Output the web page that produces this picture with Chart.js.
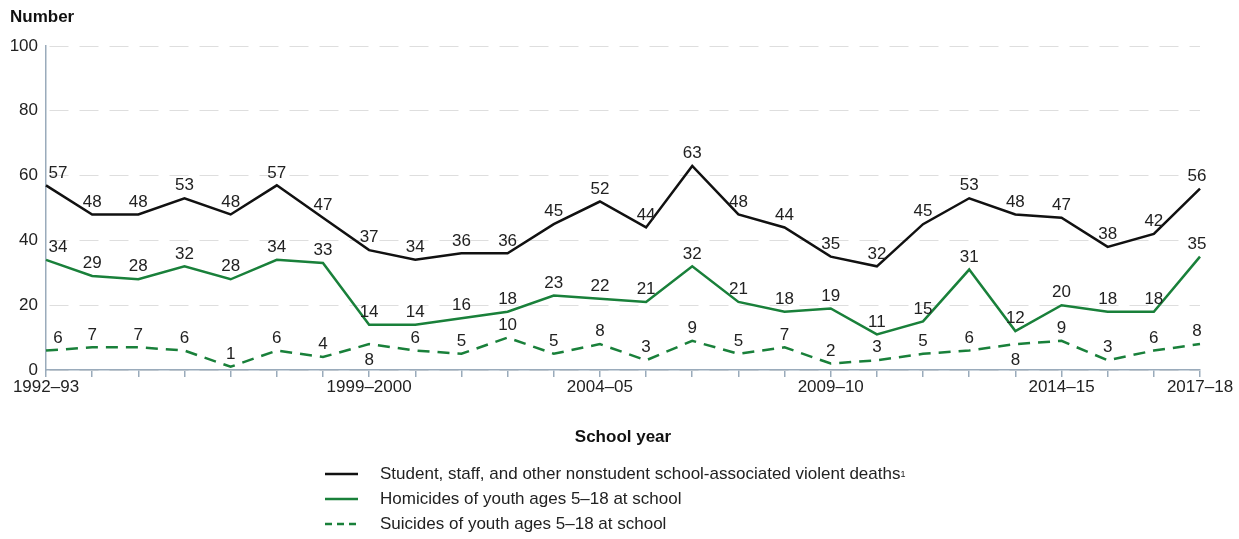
<!DOCTYPE html>
<html>
<head>
<meta charset="utf-8">
<script src="https://cdn.jsdelivr.net/npm/chart.js@4/dist/chart.umd.min.js"></script>
<style>
  html, body { margin: 0; padding: 0; background: #fff; }
  #wrap { position: relative; width: 1239px; height: 539px; }
  #legend { position: absolute; left: 325px; top: 461px; font-family: "Liberation Sans", Arial, sans-serif; font-size: 17px; color: #222; }
  #legend div { height: 25px; display: flex; align-items: center; }
  #legend svg { margin-right: 22px; }
  #legend sup { font-size: 9px; vertical-align: 7px; }
</style>
</head>
<body>
<div id="wrap">
  <canvas id="chart" width="1239" height="539"></canvas>
  <div id="legend">
    <div><svg width="33" height="4"><line x1="0" y1="2" x2="33" y2="2" stroke="#111" stroke-width="2.5"/></svg>Student, staff, and other nonstudent school-associated violent deaths<sup>1</sup></div>
    <div><svg width="33" height="4"><line x1="0" y1="2" x2="33" y2="2" stroke="#19803a" stroke-width="2.5"/></svg>Homicides of youth ages 5–18 at school</div>
    <div><svg width="33" height="4"><line x1="0" y1="2" x2="33" y2="2" stroke="#19803a" stroke-width="2.5" stroke-dasharray="7 5"/></svg>Suicides of youth ages 5–18 at school</div>
  </div>
</div>
<script>
const years = [
  "1992–93", "1993–94", "1994–95", "1995–96", "1996–97", "1997–98", "1998–99",
  "1999–2000", "2000–01", "2001–02", "2002–03", "2003–04", "2004–05", "2005–06",
  "2006–07", "2007–08", "2008–09", "2009–10", "2010–11", "2011–12", "2012–13",
  "2013–14", "2014–15", "2015–16", "2016–17", "2017–18"
];
const shownYears = ["1992–93", "1999–2000", "2004–05", "2009–10", "2014–15", "2017–18"];

const allDeaths = [57, 48, 48, 53, 48, 57, 47, 37, 34, 36, 36, 45, 52, 44, 63, 48, 44, 35, 32, 45, 53, 48, 47, 38, 42, 56];
const homicides = [34, 29, 28, 32, 28, 34, 33, 14, 14, 16, 18, 23, 22, 21, 32, 21, 18, 19, 11, 15, 31, 12, 20, 18, 18, 35];
const suicides = [6, 7, 7, 6, 1, 6, 4, 8, 6, 5, 10, 5, 8, 3, 9, 5, 7, 2, 3, 5, 6, 8, 9, 3, 6, 8];
// indices where the suicide label sits under the line
const suicideBelow = [7, 21];

const yTicks = [0, 20, 40, 60, 80, 100];

const FONT = "'Liberation Sans', Arial, sans-serif";
const GREEN = "#19803a";
const AXIS = "#9aabbb";

const valueLabels = {
  id: "valueLabels",
  afterDatasetsDraw(chart) {
    const ctx = chart.ctx;
    ctx.save();
    ctx.font = "17px " + FONT;
    ctx.fillStyle = "#222";
    ctx.textAlign = "center";
    chart.data.datasets.forEach((ds, di) => {
      const meta = chart.getDatasetMeta(di);
      meta.data.forEach((pt, i) => {
        let x = pt.x;
        if (i === 0) x += 12;
        if (i === ds.data.length - 1) x -= 3;
        const below = di === 2 && suicideBelow.includes(i);
        if (below) {
          ctx.textBaseline = "top";
          ctx.fillText(ds.data[i], x, pt.y + 8);
        } else {
          ctx.textBaseline = "bottom";
          ctx.fillText(ds.data[i], x, pt.y - 4);
        }
      });
    });
    ctx.restore();
  }
};

const extraText = {
  id: "extraText",
  afterDraw(chart) {
    const ctx = chart.ctx;
    ctx.save();
    ctx.font = "bold 17px " + FONT;
    ctx.fillStyle = "#111";
    ctx.textAlign = "left";
    ctx.textBaseline = "middle";
    ctx.fillText("Number", 10, 17);
    ctx.textAlign = "center";
    ctx.fillText("School year", 623, 437);
    ctx.restore();
  }
};

new Chart(document.getElementById("chart"), {
  type: "line",
  data: {
    labels: years,
    datasets: [
      {
        label: "Student, staff, and other nonstudent school-associated violent deaths",
        data: allDeaths,
        borderColor: "#111",
        borderWidth: 2.5,
        pointRadius: 0,
        tension: 0
      },
      {
        label: "Homicides of youth ages 5–18 at school",
        data: homicides,
        borderColor: GREEN,
        borderWidth: 2.5,
        pointRadius: 0,
        tension: 0
      },
      {
        label: "Suicides of youth ages 5–18 at school",
        data: suicides,
        borderColor: GREEN,
        borderWidth: 2.5,
        borderDash: [12, 8],
        pointRadius: 0,
        tension: 0
      }
    ]
  },
  options: {
    responsive: false,
    animation: false,
    layout: { padding: { top: 46, right: 39, left: 0, bottom: 0 } },
    plugins: {
      legend: { display: false },
      tooltip: { enabled: false }
    },
    scales: {
      x: {
        offset: false,
        afterFit(scale) { scale.height = 169; },
        border: { color: AXIS, width: 1.5 },
        grid: { drawOnChartArea: false, color: AXIS, tickLength: 7, lineWidth: 1.5 },
        ticks: {
          autoSkip: false,
          maxRotation: 0,
          color: "#222",
          font: { family: FONT, size: 17 },
          padding: 0,
          callback(v, i) {
            return shownYears.includes(years[i]) ? years[i] : "";
          }
        }
      },
      y: {
        min: 0,
        max: 100,
        afterFit(scale) { scale.width = 46; },
        afterBuildTicks(scale) { scale.ticks = yTicks.map(v => ({ value: v })); },
        border: { color: AXIS, width: 1.5, dash: [19, 11], dashOffset: -3 },
        grid: { color: "#dedede", lineWidth: 1, drawTicks: false },
        ticks: {
          color: "#222",
          font: { family: FONT, size: 17 },
          padding: 8
        }
      }
    }
  },
  plugins: [valueLabels, extraText]
});
</script>
</body>
</html>
